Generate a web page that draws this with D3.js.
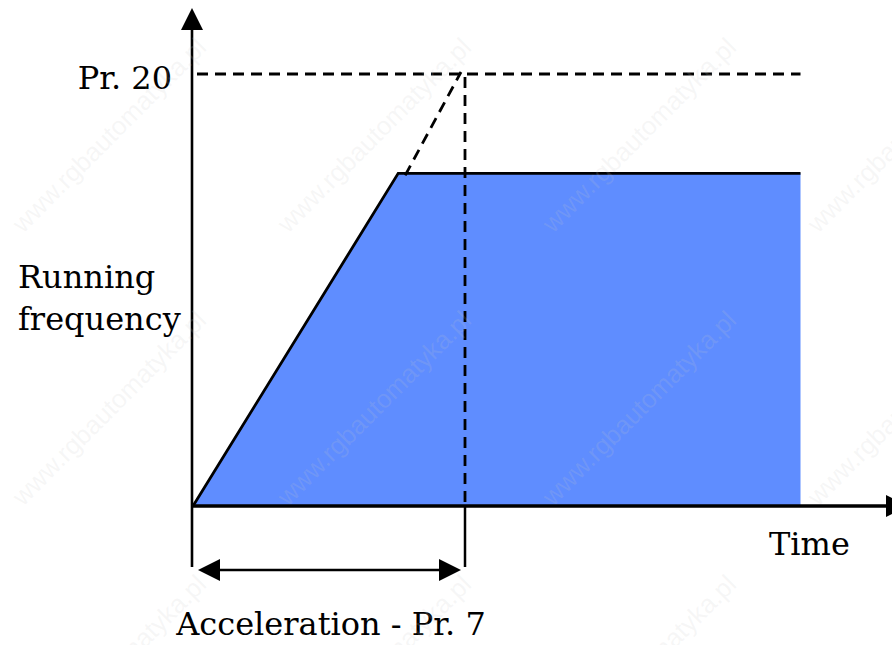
<!DOCTYPE html>
<html>
<head>
<meta charset="utf-8">
<script src="https://cdn.jsdelivr.net/npm/d3@7"></script>
<style>
  body { margin: 0; background: #fff; }
  svg text { font-family: "DejaVu Serif", serif; fill: #000; }
</style>
</head>
<body>
<div id="chart-container"></div>
<script>
// Ramp profile (time in units of acceleration time, frequency relative to Pr. 20)
var profileTime = [0, 0.76, 2.25];
var profileFreq = [0, 0.77, 0.77];
var accelTime = 1;      // Pr. 7
var pr20Freq = 1;       // Pr. 20
var dashEndTime = 2.25;
var labels = {
    y: ["Running", "frequency"],
    x: "Time",
    pr20: "Pr. 20",
    accel: "Acceleration - Pr. 7"
};
var watermark = "www.rgbautomatyka.pl";
var wmCols = [109, 374, 639, 904];
var wmRows = [135, 408, 672];

var w = 892, h = 645;

var svg = d3.select("#chart-container")
    .append("svg")
    .attr("width", w)
    .attr("height", h);

// Scales: origin at (193, 506)
var xScale = d3.scaleLinear().domain([0, 1]).range([193, 463]);
var yScale = d3.scaleLinear().domain([0, 1]).range([506, 74]);

// filled area under profile
var pts = profileTime.map(function(t, i) { return [t, profileFreq[i]]; });
var area = d3.area()
    .x(function(d) { return xScale(d[0]); })
    .y0(yScale(0))
    .y1(function(d) { return yScale(d[1]); });

svg.append("path")
    .datum(pts)
    .attr("d", area)
    .attr("fill", "#5f8dff");

// profile outline (ramp + plateau)
var line = d3.line()
    .x(function(d) { return xScale(d[0]); })
    .y(function(d) { return yScale(d[1]); });

svg.append("path")
    .datum(pts)
    .attr("d", line)
    .attr("fill", "none")
    .attr("stroke", "#000")
    .attr("stroke-width", 2.8);

// dashed guides
var dash = svg.append("g")
    .attr("stroke", "#000")
    .attr("stroke-width", 2.8)
    .attr("stroke-dasharray", "11,7")
    .attr("fill", "none");

dash.append("line")
    .attr("x1", xScale(0) + 4).attr("y1", yScale(pr20Freq))
    .attr("x2", xScale(dashEndTime)).attr("y2", yScale(pr20Freq));

dash.append("line")
    .attr("x1", xScale(profileTime[1]) + 7).attr("y1", yScale(profileFreq[1]) + 2)
    .attr("x2", xScale(accelTime) - 2).attr("y2", yScale(pr20Freq) - 2);

dash.append("line")
    .attr("x1", xScale(accelTime) + 2).attr("y1", yScale(pr20Freq) + 3)
    .attr("x2", xScale(accelTime) + 2).attr("y2", yScale(0));

// solid continuation of the Pr.7 marker below the axis
svg.append("line")
    .attr("x1", xScale(accelTime) + 2).attr("y1", yScale(0))
    .attr("x2", xScale(accelTime) + 2).attr("y2", 567)
    .attr("stroke", "#000").attr("stroke-width", 2.5);

// axes
svg.append("line")
    .attr("x1", xScale(0) - 1).attr("y1", 567)
    .attr("x2", xScale(0) - 1).attr("y2", 26)
    .attr("stroke", "#000").attr("stroke-width", 2.6);
svg.append("path")
    .attr("d", "M" + (xScale(0) - 1) + ",8 L" + (xScale(0) - 12) + ",30 L" + (xScale(0) + 10) + ",30 Z")
    .attr("fill", "#000");

svg.append("line")
    .attr("x1", xScale(0)).attr("y1", yScale(0))
    .attr("x2", 888).attr("y2", yScale(0))
    .attr("stroke", "#000").attr("stroke-width", 3.4);
svg.append("path")
    .attr("d", "M886," + (yScale(0) - 11) + " L908," + yScale(0) + " L886," + (yScale(0) + 11) + " Z")
    .attr("fill", "#000");

// acceleration double arrow
var ay = 570;
var ax0 = xScale(0) + 5, ax1 = xScale(accelTime) - 2;
svg.append("line")
    .attr("x1", ax0 + 20).attr("y1", ay)
    .attr("x2", ax1 - 20).attr("y2", ay)
    .attr("stroke", "#000").attr("stroke-width", 2.5);
svg.append("path")
    .attr("d", "M" + ax0 + "," + ay + " L" + (ax0 + 22) + "," + (ay - 11) + " L" + (ax0 + 22) + "," + (ay + 11) + " Z")
    .attr("fill", "#000");
svg.append("path")
    .attr("d", "M" + ax1 + "," + ay + " L" + (ax1 - 22) + "," + (ay - 11) + " L" + (ax1 - 22) + "," + (ay + 11) + " Z")
    .attr("fill", "#000");

// labels
var fs = "32px";
svg.append("text")
    .attr("x", 172).attr("y", yScale(pr20Freq) + 15)
    .attr("text-anchor", "end")
    .style("font-size", fs)
    .text(labels.pr20);

svg.selectAll(".ylab")
    .data(labels.y)
    .enter()
    .append("text")
    .attr("class", "ylab")
    .attr("x", 18)
    .attr("y", function(d, i) { return 288 + i * 42; })
    .style("font-size", fs)
    .text(function(d) { return d; });

svg.append("text")
    .attr("x", 769).attr("y", 555)
    .style("font-size", fs)
    .text(labels.x);

svg.append("text")
    .attr("x", 331).attr("y", 635)
    .attr("text-anchor", "middle")
    .style("font-size", fs)
    .text(labels.accel);

// faint watermark grid, drawn over everything
var wm = svg.append("g");
wmRows.forEach(function(cy) {
    wmCols.forEach(function(cx) {
        wm.append("text")
            .attr("transform", "translate(" + cx + "," + cy + ") rotate(-45)")
            .attr("text-anchor", "middle")
            .attr("dy", "0.35em")
            .style("font-family", "Liberation Sans, sans-serif")
            .style("font-size", "26px")
            .style("fill", "#c8c8c8")
            .style("fill-opacity", 0.16)
            .text(watermark);
    });
});
</script>
</body>
</html>
